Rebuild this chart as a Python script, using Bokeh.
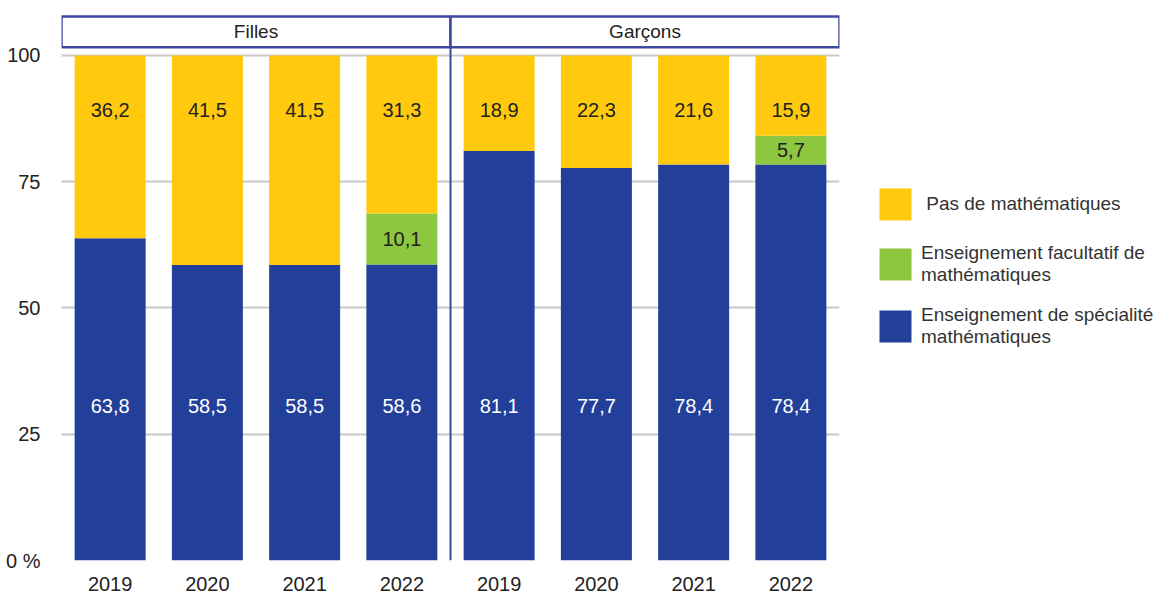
from bokeh.plotting import figure
from bokeh.models import ColumnDataSource, Legend, LegendItem, FixedTicker, Range1d
from bokeh.embed import file_html
from bokeh.resources import INLINE
from bokeh.core.properties import value

# ---- data ----
groups = ["Filles", "Garçons"]
years = ["2019", "2020", "2021", "2022"]
spec = [63.8, 58.5, 58.5, 58.6, 81.1, 77.7, 78.4, 78.4]
facult = [0, 0, 0, 10.1, 0, 0, 0, 5.7]
pas = [36.2, 41.5, 41.5, 31.3, 18.9, 22.3, 21.6, 15.9]
y_ticks = [0, 25, 50, 75, 100]
y_tick_labels = ["0 %", "25", "50", "75", "100"]
series_names = ["spec", "facult", "pas"]
legend_labels = [" Pas de mathématiques",
                 "Enseignement facultatif de\nmathématiques",
                 "Enseignement de spécialité\nmathématiques"]

BLUE = "#22409A"
GREEN = "#8DC63F"
YELLOW = "#FFC90E"
FRAME_BLUE = "#3F48A0"
TXT = "#222222"
FONT = "Liberation Sans"

n = len(spec)
xs = list(range(n))
src = ColumnDataSource(dict(x=xs, spec=spec, facult=facult, pas=pas))

p = figure(frame_width=778, frame_height=548, output_backend="svg", toolbar_location=None,
           x_range=Range1d(-0.5, 7.5), y_range=Range1d(0, 108.5),
           min_border_left=61, min_border_right=0, min_border_top=12,
           min_border_bottom=0)
p.outline_line_color = None
p.background_fill_color = "white"

rs = p.vbar_stack(series_names, x="x", width=0.73, source=src,
                  color=[BLUE, GREEN, YELLOW], line_color=None)

# value labels
fmt = lambda v: f"{v:.1f}".replace(".", ",")
spec_lab = ColumnDataSource(dict(x=xs, y=[30.5] * n, t=[fmt(v) for v in spec]))
pas_lab = ColumnDataSource(dict(x=xs, y=[s + f + q - 10.9 for s, f, q in zip(spec, facult, pas)],
                                t=[fmt(v) for v in pas]))
fx = [x for x, f in zip(xs, facult) if f > 0]
fy = [s + f / 2 for s, f in zip(spec, facult) if f > 0]
ft = [fmt(f) for f in facult if f > 0]
fac_lab = ColumnDataSource(dict(x=fx, y=fy, t=ft))
for s, col in [(spec_lab, "white"), (pas_lab, TXT), (fac_lab, TXT)]:
    p.text(x="x", y="y", text="t", source=s, text_align="center", text_baseline="middle",
           text_font=value(FONT), text_font_size="20px", text_color=col)

# group header boxes
p.quad(left=[-0.5, 3.5], right=[3.5, 7.5], bottom=[101.6, 101.6], top=[107.7, 107.7],
       fill_color="white", line_color=FRAME_BLUE, line_width=2.5)
p.text(x=[1.5, 5.5], y=[104.65, 104.65], text=groups, text_align="center",
       text_baseline="middle", text_font=value(FONT), text_font_size="19px", text_color=TXT)
p.segment(x0=[3.5], y0=[0], x1=[3.5], y1=[101.6], line_color=FRAME_BLUE, line_width=2)

# axes
p.xgrid.visible = False
p.ygrid.ticker = FixedTicker(ticks=[25, 50, 75, 100])
p.ygrid.grid_line_color = "#C8C8C8"
p.ygrid.grid_line_width = 2

p.yaxis.ticker = FixedTicker(ticks=y_ticks)
p.yaxis.major_label_overrides = {t: l for t, l in zip(y_ticks, y_tick_labels)}
p.xaxis.ticker = FixedTicker(ticks=xs)
p.xaxis.major_label_overrides = {i: years[i % len(years)] for i in xs}
for ax in (p.xaxis, p.yaxis):
    ax.axis_line_color = None
    ax.major_tick_line_color = None
    ax.minor_tick_line_color = None
    ax.major_tick_out = 0
    ax.major_tick_in = 0
    ax.minor_tick_out = 0
    ax.minor_tick_in = 0
    ax.major_label_text_font = FONT
    ax.major_label_text_font_size = "20px"
    ax.major_label_text_color = TXT
p.yaxis.major_label_standoff = 21
p.xaxis.major_label_standoff = 16

legend = Legend(items=[LegendItem(label=legend_labels[0], renderers=[rs[2]]),
                       LegendItem(label=legend_labels[1], renderers=[rs[1]]),
                       LegendItem(label=legend_labels[2], renderers=[rs[0]])],
                location=(36, 212), padding=0, margin=0, spacing=18,
                glyph_width=40, glyph_height=40, label_standoff=6,
                label_text_font=FONT, label_text_font_size="19px",
                label_text_color="#333333",
                border_line_color=None, background_fill_alpha=0)
p.add_layout(legend, "right")

open("out.html", "w").write(file_html(p, INLINE))
